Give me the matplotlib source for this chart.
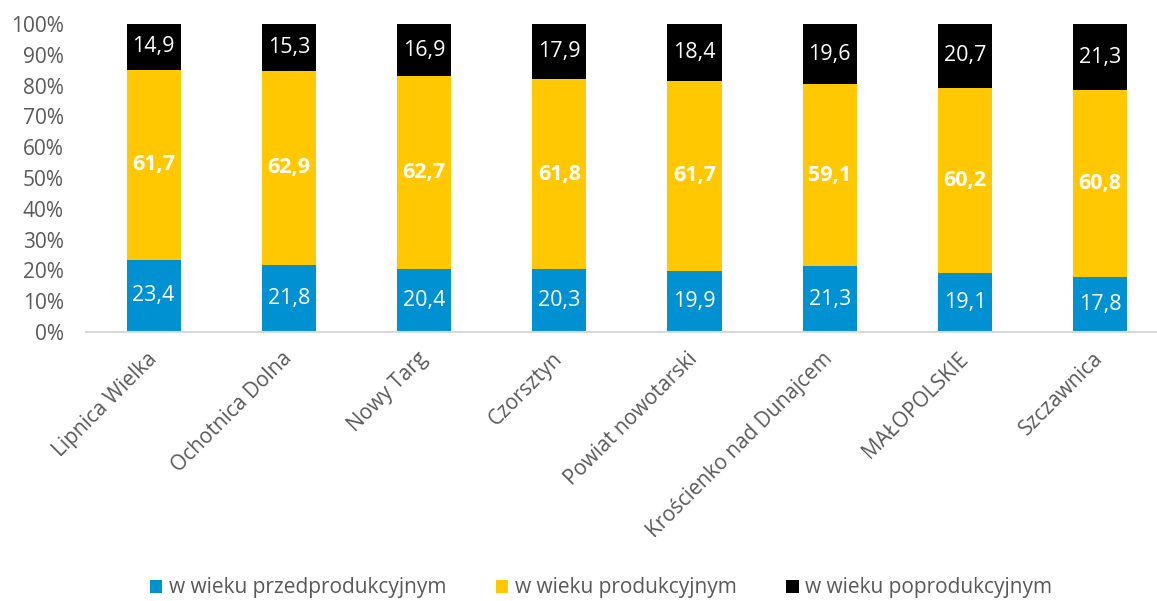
import matplotlib
matplotlib.use("Agg")
import matplotlib.pyplot as plt
import numpy as np

categories = ["Lipnica Wielka", "Ochotnica Dolna", "Nowy Targ", "Czorsztyn",
              "Powiat nowotarski", "Krościenko nad Dunajcem", "MAŁOPOLSKIE", "Szczawnica"]
pre = [23.4, 21.8, 20.4, 20.3, 19.9, 21.3, 19.1, 17.8]
prod = [61.7, 62.9, 62.7, 61.8, 61.7, 59.1, 60.2, 60.8]
post = [14.9, 15.3, 16.9, 17.9, 18.4, 19.6, 20.7, 21.3]
series_names = ["w wieku przedprodukcyjnym", "w wieku produkcyjnym", "w wieku poprodukcyjnym"]
yticks = [0, 10, 20, 30, 40, 50, 60, 70, 80, 90, 100]

colors = ["#0091D3", "#FFC800", "#000000"]
plt.rcParams['font.family'] = ['Open Sans', 'DejaVu Sans']

W, H = 1157, 601
fig = plt.figure(figsize=(W/100, H/100), dpi=100)
ax = fig.add_axes([86/W, (H-332)/H, (1157-86)/W, (332-24)/H])

x = np.arange(len(categories))
bw = 0.4
pre_a = np.array(pre); prod_a = np.array(prod); post_a = np.array(post)
b1 = ax.bar(x, pre_a, bw, color=colors[0], label=series_names[0])
b2 = ax.bar(x, prod_a, bw, bottom=pre_a, color=colors[1], label=series_names[1])
b3 = ax.bar(x, post_a, bw, bottom=pre_a+prod_a, color=colors[2], label=series_names[2])

fmt = lambda v: f"{v:.1f}".replace(".", ",")
for i in range(len(categories)):
    ax.text(x[i], pre_a[i]/2, fmt(pre_a[i]), ha='center', va='center', color='white', fontsize=15.5)
    ax.text(x[i], pre_a[i]+prod_a[i]/2, fmt(prod_a[i]), ha='center', va='center', color='white', fontsize=15.5, fontweight='bold')
    ax.text(x[i], pre_a[i]+prod_a[i]+post_a[i]/2, fmt(post_a[i]), ha='center', va='center', color='white', fontsize=15.5)

ax.set_xlim(-0.5, 7.42)
ax.set_ylim(0, 100)
ax.set_yticks(yticks)
ax.set_yticklabels([f"{t}%" for t in yticks], fontsize=15, color='#595959')
ax.set_xticks(x)
ax.set_xticklabels(categories, rotation=45, ha='right', va='center', rotation_mode='anchor', fontsize=15, color='#595959')
ax.tick_params(axis='both', length=0)
ax.tick_params(axis='x', pad=17)
ax.tick_params(axis='y', pad=16)
for s in ['top', 'right', 'left']:
    ax.spines[s].set_visible(False)
ax.spines['bottom'].set_color('#D9D9D9')
ax.spines['bottom'].set_linewidth(1.5)

leg = fig.legend(handles=[b1, b2, b3], labels=series_names, loc='center', bbox_to_anchor=(601/W, 1-588/H),
                 ncol=3, frameon=False, fontsize=15, handlelength=0.6, handleheight=0.6,
                 handletextpad=0.3, columnspacing=2.4)
for t in leg.get_texts():
    t.set_color('#595959')

fig.savefig("out.png", dpi=100)
